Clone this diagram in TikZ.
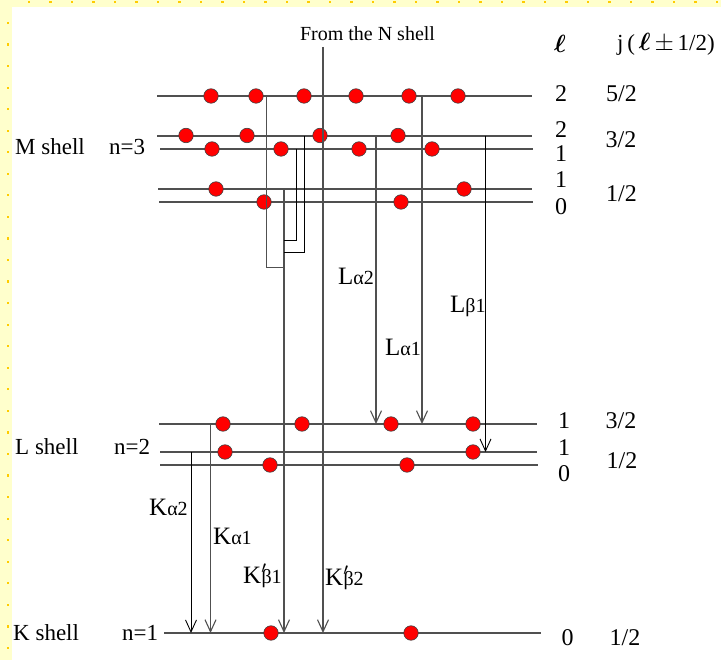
\documentclass[tikz,border=0pt]{standalone}
\usepackage{fontspec}
\setmainfont{Liberation Serif}
\usepackage{bm}
\usetikzlibrary{arrows.meta}

% small index used in the line names (alpha 2, beta 1, ...)
\newcommand\trsub[1]{{\fontsize{20}{20}\selectfont #1}}
% prime set above the start of the index
\newcommand\trprime{$^{\prime}$\kern-5pt}

\definecolor{framebg}{RGB}{255,255,204}
\definecolor{framedot}{RGB}{255,204,0}
\definecolor{linegray}{RGB}{80,80,80}

\tikzset{
  level/.style={draw=linegray, line width=1.1pt},
  electron/.style={circle, fill=red, draw=black!75, line width=0.6pt,
                   minimum size=14.5pt, inner sep=0pt},
  trans/.style={draw=linegray, line width=1.1pt},
  transb/.style={draw=black, line width=0.9pt},
  emit/.style={-{Straight Barb[length=12pt,width=11pt]}},
  shelltxt/.style={font=\fontsize{23}{26}\selectfont, inner sep=0pt, anchor=base west},
  qnum/.style={font=\fontsize{24}{26}\selectfont, inner sep=0pt, anchor=base},
  linetxt/.style={font=\fontsize{25}{28}\selectfont, inner sep=0pt, anchor=base west},
}

\begin{document}
\begin{tikzpicture}[x=1pt, y=-1pt]
\useasboundingbox (0,0) rectangle (721,660);

% page frame: dotted yellow bands on top and left
\fill[white] (0,0) rectangle (721,660);
\fill[framebg] (0,0) rectangle (721,7);
\fill[framebg] (0,0) rectangle (12,660);
\foreach \k in {0,...,32} \fill[framedot] ({29+21.5*\k-1.1},1.2) rectangle ++(2.2,2.2);
\foreach \k in {0,...,29} \fill[framedot] (6.9,{23+21.55*\k-1.1}) rectangle ++(2.2,2.2);

% energy levels
\draw[level] (157,96)  coordinate (m1a) -- (532,96)  coordinate (m1b);
\draw[level] (157,136) coordinate (m2a) -- (532,136) coordinate (m2b);
\draw[level] (160,149) coordinate (m3a) -- (533,149) coordinate (m3b);
\draw[level] (158,189) coordinate (m4a) -- (532,189) coordinate (m4b);
\draw[level] (159,202) coordinate (m5a) -- (533,202) coordinate (m5b);
\draw[level] (159,424) coordinate (l1a) -- (537,424) coordinate (l1b);
\draw[level] (160,452) coordinate (l2a) -- (537,452) coordinate (l2b);
\draw[level] (160,465) coordinate (l3a) -- (538,465) coordinate (l3b);
\draw[level] (164,633) coordinate (ka)  -- (541,633) coordinate (kb);

% electrons
\foreach \x [count=\i] in {211,256,304,356,409,458} \node[electron] (em1\i) at (\x,96) {};
\foreach \x [count=\i] in {186,247,320,398}         \node[electron] (em2\i) at (\x,135.5) {};
\foreach \x [count=\i] in {212,281,359,432}         \node[electron] (em3\i) at (\x,149) {};
\foreach \x [count=\i] in {216,464}                 \node[electron] (em4\i) at (\x,189) {};
\foreach \x [count=\i] in {264,401}                 \node[electron] (em5\i) at (\x,202) {};
\foreach \x [count=\i] in {223,302,391,473}         \node[electron] (el1\i) at (\x,424) {};
\foreach \x [count=\i] in {225,473}                 \node[electron] (el2\i) at (\x,452) {};
\foreach \x [count=\i] in {270,407}                 \node[electron] (el3\i) at (\x,465) {};
\foreach \x [count=\i] in {271,411}                 \node[electron] (ek\i)  at (\x,633) {};

% end points of the transitions
\coordinate (nsrc) at (323,47);   \coordinate (nk)   at (323,633);
\coordinate (la1s) at (422,96);   \coordinate (la1e) at (422,424);
\coordinate (la2s) at (376,136);  \coordinate (la2e) at (376,424);
\coordinate (lb1s) at (485.5,136);\coordinate (lb1e) at (485.5,452);
\coordinate (ka1s) at (210.5,424);\coordinate (ka1e) at (210.5,633);
\coordinate (ka2s) at (191,452);  \coordinate (ka2e) at (191,633);
\coordinate (kb1s) at (284,189);  \coordinate (kb1e) at (284,633);
\coordinate (bm1)  at (266.7,96); \coordinate (bm1j) at (284,267.7);
\coordinate (bm3)  at (296.5,149);\coordinate (bm3j) at (284,240);
\coordinate (bm2)  at (304.3,136);\coordinate (bm2j) at (284,252);

% transitions
\draw[trans,emit]  (nsrc) -- (nk);
\draw[trans,emit]  (la1s) -- (la1e);
\draw[trans,emit]  (la2s) -- (la2e);
\draw[transb,emit] (lb1s) -- (lb1e);
\draw[trans,emit]  (ka1s) -- (ka1e);
\draw[transb,emit] (ka2s) -- (ka2e);
\draw[trans,emit]  (kb1s) -- (kb1e);
\draw[trans]  (bm1) |- (bm1j);
\draw[transb] (bm3) |- (bm3j);
\draw[transb] (bm2) |- (bm2j);

% header
\node[inner sep=0pt, anchor=base, font=\fontsize{20}{22}\selectfont] (ntitle) at (367.5,41) {From the N shell};
\node[inner sep=0pt, anchor=base, font=\fontsize{28}{30}\selectfont] (lhead) at (560,53) {$\bm{\ell}$};
\node[inner sep=0pt, anchor=base west, font=\fontsize{23}{26}\selectfont] (jhead) at (617,51)
  {j\,(\,$\bm{\ell}$\,$\pm$\,1/2)};

% shell names
\node[shelltxt] (mname) at (15,155) {M shell};
\node[shelltxt] (mn)    at (109,155) {n=3};
\node[shelltxt] (lname) at (15,455) {L shell};
\node[shelltxt] (ln)    at (114,455) {n=2};
\node[shelltxt] (kname) at (13,640.7) {K shell};
\node[shelltxt] (kn)    at (122,640.7) {n=1};

% quantum numbers l and j
\node[qnum] (q1) at (561,101.7) {2};   \node[qnum] (j1) at (621.5,101.7) {5/2};
\node[qnum] (q2) at (561,138)   {2};   \node[qnum] (j2) at (621,148)     {3/2};
\node[qnum] (q3) at (561,161.7) {1};
\node[qnum] (q4) at (561,188)   {1};   \node[qnum] (j3) at (621.5,201.7) {1/2};
\node[qnum] (q5) at (561,215)   {0};
\node[qnum] (q6) at (564,429)   {1};   \node[qnum] (j4) at (621,429)     {3/2};
\node[qnum] (q7) at (564,456)   {1};   \node[qnum] (j5) at (622,468.3)   {1/2};
\node[qnum] (q8) at (564,481.7) {0};
\node[qnum] (q9) at (567.5,645) {0};   \node[qnum] (j6) at (625,645)     {1/2};

% line names
\node[linetxt] (tla2) at (338,284.3) {L\trsub{α2}};
\node[linetxt] (tla1) at (385,355.7) {L\trsub{α1}};
\node[linetxt] (tlb1) at (450,312.7) {L\trsub{β1}};
\node[linetxt] (tka2) at (149,515.7) {K\trsub{α2}};
\node[linetxt] (tka1) at (213,544)   {K\trsub{α1}};
\node[linetxt] (tkb1) at (243,583)   {K\trprime\trsub{β1}};
\node[linetxt] (tkb2) at (325,585)   {K\trprime\trsub{β2}};
\end{tikzpicture}
\end{document}
